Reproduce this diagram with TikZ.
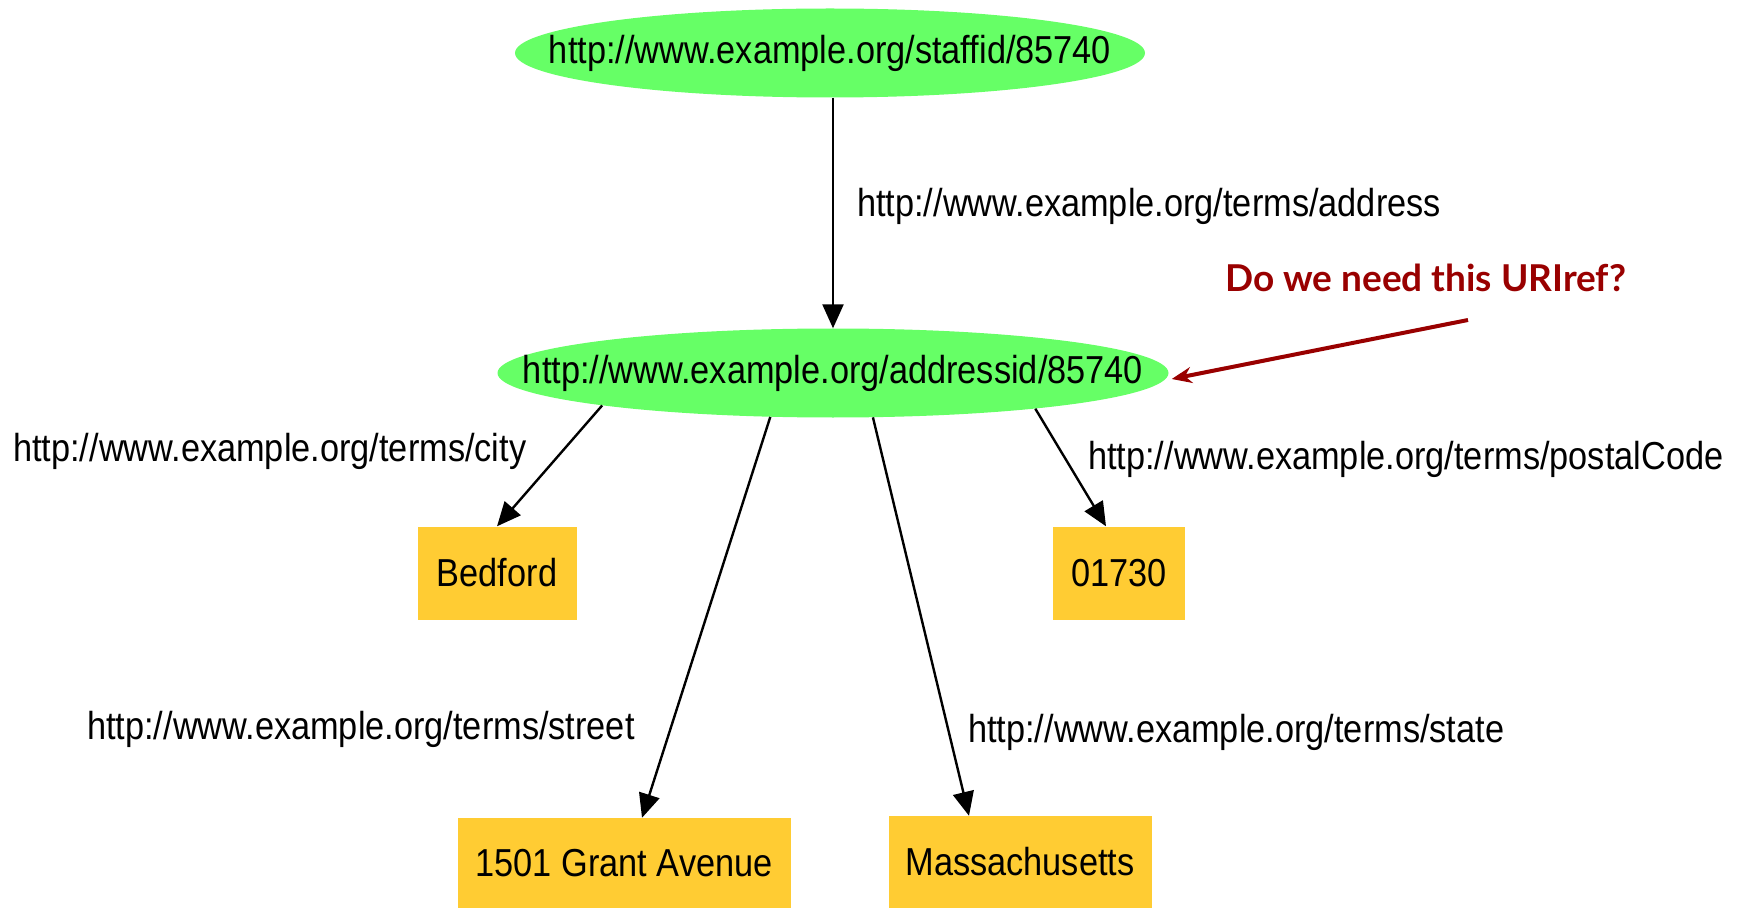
\documentclass[tikz,border=0pt]{standalone}
\usepackage{fontspec}
\setmainfont{Liberation Sans}[FakeStretch=0.88]
\newfontfamily\latofont{Lato}
\usetikzlibrary{shapes.geometric,arrows.meta}
\definecolor{nodegreen}{HTML}{66FF66}
\definecolor{litbox}{HTML}{FFCC33}
\definecolor{qred}{HTML}{990000}
\newcommand{\zw}[1]{\makebox[0pt]{#1}}
\begin{document}
\begin{tikzpicture}[x=1pt,y=-1pt,
  every node/.style={font=\fontsize{39}{44}\selectfont, inner sep=0pt},
  res/.style={ellipse, fill=nodegreen, minimum width=#1, minimum height=89pt},
  lit/.style={rectangle, fill=litbox},
  edge/.style={draw=black, line width=2.4pt, -{Triangle[length=24pt,width=21pt]}},
  elabel/.style={anchor=west},
  qarrow/.style={draw=qred, line width=4pt, -{Stealth[length=20pt,width=16pt]}}]
\useasboundingbox (0,0) rectangle (1746,909);

\node[res=630pt] (staff) at (830,53) {\zw{http://www.example.org/staffid/85740}};
\node[res=671pt] (addr) at (833,373) {\zw{http://www.example.org/addressid/85740}};

\node[lit, minimum width=159pt, minimum height=93pt] (bedford) at (497,573) {Bedford};
\node[lit, minimum width=132pt, minimum height=93pt] (postal) at (1119,573) {01730};
\node[lit, minimum width=333pt, minimum height=90pt] (street) at (624,863) {1501 Grant Avenue};
\node[lit, minimum width=263pt, minimum height=92pt] (state) at (1020,862) {Massachusetts};

\draw[edge] ([xshift=3pt]staff.south) -- (addr.north);
\draw[edge] (addr.188.5) -- (bedford.north);
\draw[edge] (addr.-10.5) -- ([xshift=-13pt]postal.north);
\draw[edge] (addr.-145) -- ([xshift=18pt]street.north);
\draw[edge] (addr.-48) -- ([xshift=-51pt]state.north);

\node[elabel] (laddr) at (857,206) {http://www.example.org/terms/address};
\node[elabel] (lcity) at (13,451) {http://www.example.org/terms/city};
\node[elabel] (lpostal) at (1088,459) {http://www.example.org/terms/postalCode};
\node[elabel] (lstreet) at (87,729) {http://www.example.org/terms/street};
\node[elabel] (lstate) at (968,732) {http://www.example.org/terms/state};

\node[anchor=west, text=qred, font=\latofont\bfseries\fontsize{37}{42}\selectfont] (q) at (1225,278) {Do we need this URIref?};
\coordinate (qstart) at (1468,320);
\draw[qarrow] (qstart) -- ([yshift=-6pt,xshift=3pt]addr.east);
\end{tikzpicture}
\end{document}
